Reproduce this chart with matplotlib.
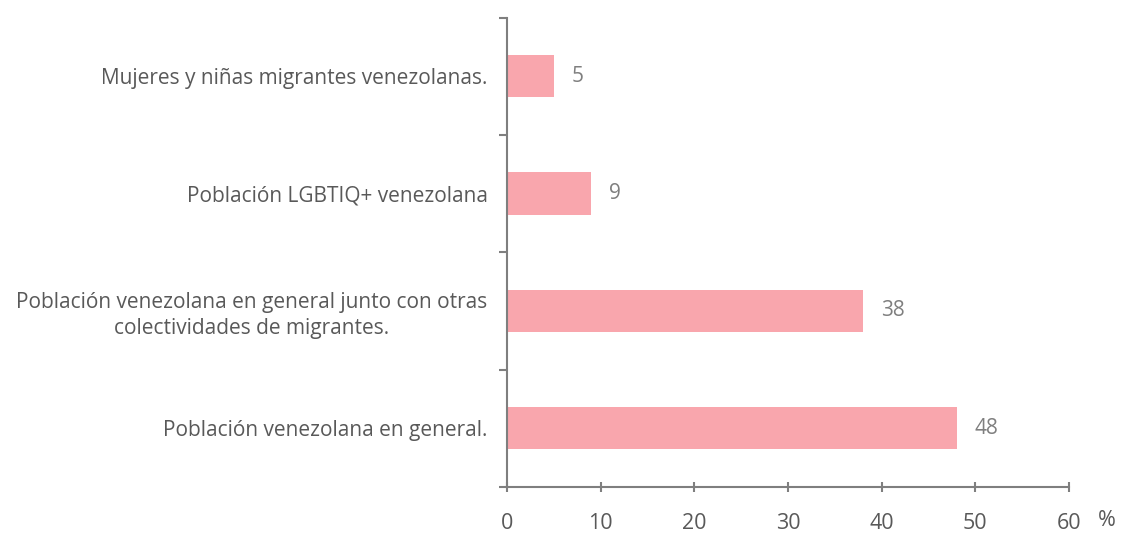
import matplotlib.pyplot as plt
from matplotlib.ticker import FixedLocator

plt.rcParams['font.family'] = ['Open Sans', 'DejaVu Sans']

# datos (de abajo hacia arriba)
categorias = [
    "Población venezolana en general.",
    "Población venezolana en general junto con otras\ncolectividades de migrantes.",
    "Población LGBTIQ+ venezolana",
    "Mujeres y niñas migrantes venezolanas.",
]
valores = [48, 38, 9, 5]
ticks_x = [0, 10, 20, 30, 40, 50, 60]

color_barra = "#F9A6AD"
gris = "#7F7F7F"
texto = "#595959"

fig = plt.figure(figsize=(11.28, 5.33), dpi=100)
ax = fig.add_axes([0.4495, 0.0863, 0.4982, 0.8807])

pos = list(range(len(categorias)))
ax.barh(pos, valores, height=0.36, color=color_barra)

for y, v in zip(pos, valores):
    ax.text(v + 1.9, y, str(v), va="center", ha="left", fontsize=15, color=gris)

ax.set_xlim(0, 60)
ax.set_ylim(-0.5, len(categorias) - 0.5)
ax.set_xticks(ticks_x)
ax.set_xticklabels([str(t) for t in ticks_x], fontsize=15.5, color=texto)
ax.set_yticks(pos)
ax.set_yticklabels(categorias, fontsize=15, color=texto, ha="right",
                   multialignment="center", linespacing=1.3)
ax.yaxis.set_minor_locator(FixedLocator([p - 0.5 for p in range(len(categorias) + 1)]))
ax.tick_params(axis="y", which="major", length=0, pad=14)
ax.tick_params(axis="y", which="minor", length=6, width=1.5, color=gris, direction="out")
ax.tick_params(axis="x", which="major", length=7, width=1.5, color=gris, direction="inout", pad=15)

for s in ["top", "right"]:
    ax.spines[s].set_visible(False)
for s in ["left", "bottom"]:
    ax.spines[s].set_color(gris)
    ax.spines[s].set_linewidth(1.5)

fig.text(1107 / 1128, 1 - 521 / 533, "%", ha="center", va="center", fontsize=15.5, color=texto)

fig.savefig("out.png", dpi=100)
